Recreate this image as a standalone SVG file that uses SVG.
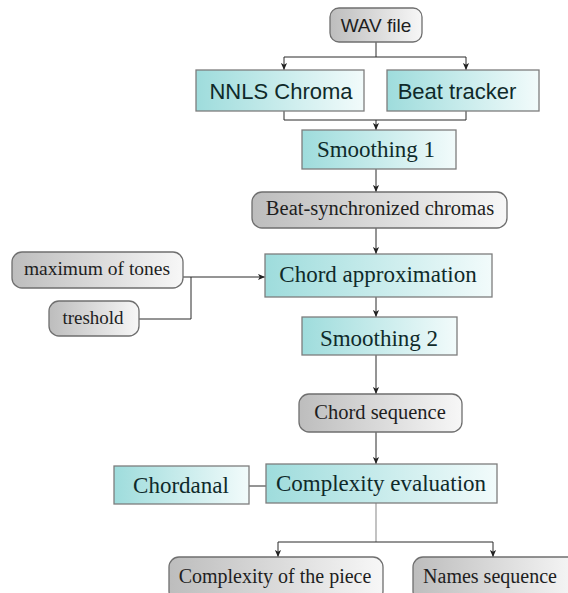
<svg xmlns="http://www.w3.org/2000/svg" width="568" height="593" viewBox="0 0 568 593">
<defs>
<linearGradient id="teal" x1="0" y1="0" x2="1" y2="0">
<stop offset="0" stop-color="#9edcdc"/>
<stop offset="1" stop-color="#f2fbfb"/>
</linearGradient>
<linearGradient id="gray" x1="0" y1="0" x2="1" y2="0">
<stop offset="0" stop-color="#bdbdbd"/>
<stop offset="1" stop-color="#f7f7f7"/>
</linearGradient>
<marker id="arr" viewBox="0 0 8 8" refX="8" refY="4" markerWidth="7" markerHeight="7" markerUnits="userSpaceOnUse" orient="auto">
<path d="M0,0.5 L8,4 L0,7.5 L2,4 Z" fill="#222"/>
</marker>
</defs>
<style>
.t{fill:url(#teal);stroke:#7d7d7d;stroke-width:1.3}
.g{fill:url(#gray);stroke:#6f6f6f;stroke-width:1.3}
.serif{font-family:"Liberation Serif","Times New Roman",serif;text-anchor:middle}
.sans{font-family:"Liberation Sans",Arial,sans-serif;text-anchor:middle}
.tt{fill:#0f2a2a}
.gt{fill:#1e1e1e}
.c{fill:none;stroke:#2a2a2a;stroke-width:1}
.cl{fill:none;stroke:#9a9a9a;stroke-width:1.2}
</style>
<g id="connectors">
<path class="c" d="M376,42 V57"/>
<path class="c" d="M284,57 H466"/>
<path class="c" d="M284,57 V70" marker-end="url(#arr)"/>
<path class="c" d="M466,57 V70" marker-end="url(#arr)"/>
<path class="c" d="M284,111 V120 H466 V111"/>
<path class="c" d="M376,120 V130" marker-end="url(#arr)"/>
<path class="c" d="M376,169 V192" marker-end="url(#arr)"/>
<path class="c" d="M376,228 V254" marker-end="url(#arr)"/>
<path class="c" d="M183,277 H265" marker-end="url(#arr)"/>
<path class="c" d="M139,319 H191 V277"/>
<path class="c" d="M376,297 V317" marker-end="url(#arr)"/>
<path class="c" d="M376,355 V394" marker-end="url(#arr)"/>
<path class="c" d="M376,432 V464" marker-end="url(#arr)"/>
<path class="c" d="M249,486 H266"/>
<path class="cl" d="M376,503 V542"/>
<path class="c" d="M278,542 H493"/>
<path class="c" d="M278,542 V557" marker-end="url(#arr)"/>
<path class="c" d="M493,542 V557" marker-end="url(#arr)"/>
</g>
<g id="wav"><rect class="g" x="330" y="8" width="92" height="34" rx="9"/><text class="sans gt" x="376" y="32" font-size="19">WAV file</text></g>
<g id="nnls"><rect class="t" x="196" y="70" width="168" height="41"/><text class="sans tt" x="281" y="99" font-size="22">NNLS Chroma</text></g>
<g id="beat"><rect class="t" x="387" y="70" width="152" height="41"/><text class="sans tt" x="457" y="99" font-size="22">Beat tracker</text></g>
<g id="smooth1"><rect class="t" x="302" y="130" width="154" height="39"/><text class="serif tt" x="376" y="157" font-size="23">Smoothing 1</text></g>
<g id="beatsync"><rect class="g" x="252" y="192" width="255" height="36" rx="10"/><text class="serif gt" x="380" y="215" font-size="20.5">Beat-synchronized chromas</text></g>
<g id="chordapprox"><rect class="t" x="265" y="254" width="227" height="43"/><text class="serif tt" x="378" y="282" font-size="23">Chord approximation</text></g>
<g id="maxtones"><rect class="g" x="12" y="252" width="171" height="36" rx="10"/><text class="serif gt" x="97" y="275" font-size="19.5">maximum of tones</text></g>
<g id="treshold"><rect class="g" x="49" y="301" width="90" height="35" rx="10"/><text class="serif gt" x="93" y="324" font-size="19">treshold</text></g>
<g id="smooth2"><rect class="t" x="302" y="317" width="155" height="38"/><text class="serif tt" x="379" y="346" font-size="23">Smoothing 2</text></g>
<g id="chordseq"><rect class="g" x="299" y="394" width="163" height="38" rx="10"/><text class="serif gt" x="380" y="419" font-size="20.5">Chord sequence</text></g>
<g id="complexity"><rect class="t" x="266" y="464" width="231" height="39"/><text class="serif tt" x="381" y="491" font-size="23">Complexity evaluation</text></g>
<g id="chordanal"><rect class="t" x="114" y="466" width="135" height="38"/><text class="serif tt" x="181" y="493" font-size="23">Chordanal</text></g>
<g id="cpiece"><rect class="g" x="169" y="557" width="214" height="44" rx="10"/><text class="serif gt" x="275" y="583" font-size="20">Complexity of the piece</text></g>
<g id="names"><rect class="g" x="413" y="557" width="166" height="44" rx="10"/><text class="serif gt" x="490" y="583" font-size="20">Names sequence</text></g>
</svg>
